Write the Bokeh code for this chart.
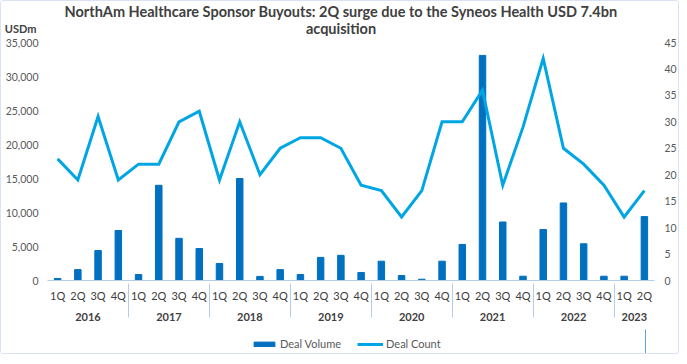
from bokeh.plotting import figure
from bokeh.layouts import column
from bokeh.models import (FactorRange, Range1d, LinearAxis, FixedTicker,
                          NumeralTickFormatter, Legend, LegendItem, Label,
                          ColumnDataSource)
from bokeh.embed import file_html
from bokeh.resources import INLINE

years = ["2016", "2016", "2016", "2016", "2017", "2017", "2017", "2017",
         "2018", "2018", "2018", "2018", "2019", "2019", "2019", "2019",
         "2020", "2020", "2020", "2020", "2021", "2021", "2021", "2021",
         "2022", "2022", "2022", "2022", "2023", "2023"]
quarters = ["1Q", "2Q", "3Q", "4Q", "1Q", "2Q", "3Q", "4Q",
            "1Q", "2Q", "3Q", "4Q", "1Q", "2Q", "3Q", "4Q",
            "1Q", "2Q", "3Q", "4Q", "1Q", "2Q", "3Q", "4Q",
            "1Q", "2Q", "3Q", "4Q", "1Q", "2Q"]
deal_volume = [300, 1600, 4400, 7350, 880, 14000, 6200, 4700,
               2500, 15000, 600, 1600, 880, 3400, 3700, 1180,
               2840, 730, 190, 2840, 5300, 33100, 8600, 630,
               7500, 11400, 5400, 630, 630, 9400]
deal_count = [23, 19, 31, 19, 22, 22, 30, 32,
              19, 30, 20, 25, 27, 27, 25, 18,
              17, 12, 17, 30, 30, 36, 18, 29,
              42, 25, 22, 18, 12, 17]
volume_ticks = [0, 5000, 10000, 15000, 20000, 25000, 30000, 35000]
count_ticks = [0, 5, 10, 15, 20, 25, 30, 35, 40, 45]

title_line1 = "NorthAm Healthcare Sponsor Buyouts: 2Q surge due to the Syneos Health USD 7.4bn"
title_line2 = "acquisition"
unit_label = "USDm"
series_names = ["Deal Volume", "Deal Count"]

FONT = "Lato"
BAR = "#0070C0"
LINE = "#00A6E4"
SEP = "#B4CBEA"
DARK = "#404040"
GREY = "#595959"
LEFT = 41
RIGHT = 21
FRAME_W = 607
W = LEFT + FRAME_W + RIGHT
HDR_H = 35

# ---------- header (title + unit) ----------
hdr = figure(width=W, height=HDR_H, output_backend="svg", toolbar_location=None,
             x_range=Range1d(0, 1), y_range=Range1d(0, HDR_H),
             x_axis_location=None, min_border=0)
hdr.grid.visible = False
hdr.outline_line_color = None
hdr.title = None
ha = hdr.yaxis[0]
ha.ticker = FixedTicker(ticks=[5])
ha.major_label_overrides = {5: unit_label}
ha.axis_line_color = None
ha.major_tick_line_color = None
ha.major_tick_out = 0
ha.major_tick_in = 0
ha.minor_tick_line_color = None
ha.major_label_standoff = 11
ha.major_label_text_font = FONT
ha.major_label_text_font_size = "11px"
ha.major_label_text_font_style = "bold"
ha.major_label_text_color = DARK
TITLE_X = 343.5 - 9 - LEFT
hdr.add_layout(Label(x=TITLE_X, y=25, x_units="screen", y_units="screen",
                     text=title_line1, text_align="center", text_baseline="middle",
                     text_font=FONT, text_font_size="14.5px", text_font_style="bold",
                     text_color=DARK))
hdr.add_layout(Label(x=TITLE_X, y=8, x_units="screen", y_units="screen",
                     text=title_line2, text_align="center", text_baseline="middle",
                     text_font=FONT, text_font_size="14.5px", text_font_style="bold",
                     text_color=DARK))

# ---------- main chart ----------
factors = list(zip(years, quarters))
src = ColumnDataSource(dict(x=factors, vol=deal_volume, cnt=deal_count))

p = figure(frame_width=FRAME_W, frame_height=238, output_backend="svg", toolbar_location=None,
           x_range=FactorRange(*factors, range_padding=0, group_padding=0, factor_padding=0),
           y_range=Range1d(0, 35000),
           min_border_left=LEFT, min_border_right=RIGHT, min_border_top=6, min_border_bottom=49)
p.title = None
p.extra_y_ranges = {"count": Range1d(0, 45)}

p.vbar(x="x", top="vol", width=0.32, source=src, color=BAR)
p.line(x="x", y="cnt", source=src, y_range_name="count",
       line_width=3, color=LINE, line_join="miter")

p.xgrid.visible = False
p.ygrid.visible = False
p.outline_line_color = None

ya = p.yaxis[0]
ya.ticker = FixedTicker(ticks=volume_ticks)
ya.formatter = NumeralTickFormatter(format="0,0")
ya.axis_line_color = None
ya.major_tick_line_color = None
ya.major_tick_out = 0
ya.major_tick_in = 0
ya.minor_tick_line_color = None
ya.major_label_standoff = 9
ya.major_label_text_font = FONT
ya.major_label_text_font_size = "10.5px"
ya.major_label_text_color = GREY

ra = LinearAxis(y_range_name="count", ticker=FixedTicker(ticks=count_ticks))
ra.axis_line_color = None
ra.major_tick_line_color = None
ra.major_tick_out = 0
ra.major_tick_in = 0
ra.minor_tick_line_color = None
ra.major_label_standoff = 10
ra.major_label_text_font = FONT
ra.major_label_text_font_size = "10.5px"
ra.major_label_text_color = GREY
p.add_layout(ra, "right")

xa = p.xaxis[0]
xa.axis_line_color = SEP
xa.major_tick_line_color = None
xa.major_tick_out = 0
xa.major_tick_in = 0
xa.minor_tick_line_color = None
xa.major_label_standoff = 8
xa.major_label_text_font = FONT
xa.major_label_text_font_size = "11px"
xa.major_label_text_color = DARK
xa.group_text_font = FONT
xa.group_text_font_size = "11px"
xa.group_text_color = DARK
xa.separator_line_color = SEP
xa.separator_line_width = 1

# ---------- legend row ----------
lf = figure(width=W, height=24, output_backend="svg", toolbar_location=None,
            x_range=Range1d(0, 1), y_range=Range1d(0, 1),
            x_axis_location=None, y_axis_location=None, min_border=0)
lf.title = None
lf.grid.visible = False
lf.outline_line_color = None
# swatch renderers (their single point lies outside the visible range)
lb = lf.vbar(x=[5], top=[5], width=0.3, color=BAR)
ll = lf.line(x=[5, 6], y=[5, 5], line_width=3, color=LINE)
legend = Legend(items=[LegendItem(label=series_names[0], renderers=[lb]),
                       LegendItem(label=series_names[1], renderers=[ll])],
                orientation="horizontal", location=(254 - 9 - LEFT, 3),
                glyph_width=26, glyph_height=6, label_standoff=3, spacing=16,
                label_text_font=FONT, label_text_font_size="11px",
                label_text_color=GREY, border_line_color=None,
                background_fill_alpha=0, padding=2, margin=0)
lf.add_layout(legend)

layout = column(hdr, p, lf, spacing=0,
                styles={"border": "1px solid #DAE3F3", "border-radius": "3px"})

open("out.html", "w").write(file_html(layout, INLINE))
